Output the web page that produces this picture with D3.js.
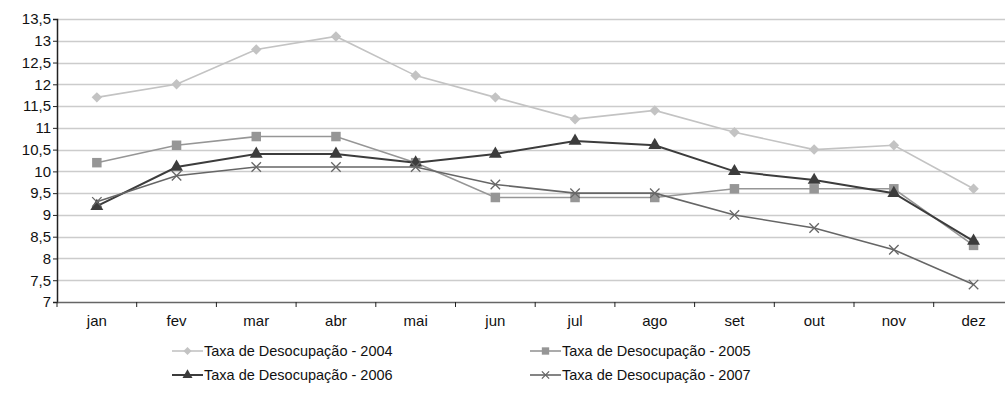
<!DOCTYPE html>
<html>
<head>
<meta charset="utf-8">
<script src="https://cdn.jsdelivr.net/npm/d3@7"></script>
<style>
	body { margin: 0; background: #fff; }
	svg { font-family: "Liberation Sans", Arial, sans-serif; }
</style>
</head>
<body>
<div id="chart"></div>
<script>
const months = ["jan", "fev", "mar", "abr", "mai", "jun", "jul", "ago", "set", "out", "nov", "dez"];
const yTicks = [7, 7.5, 8, 8.5, 9, 9.5, 10, 10.5, 11, 11.5, 12, 12.5, 13, 13.5];

const taxa2004 = [11.7, 12.0, 12.8, 13.1, 12.2, 11.7, 11.2, 11.4, 10.9, 10.5, 10.6, 9.6];
const taxa2005 = [10.2, 10.6, 10.8, 10.8, 10.2, 9.4, 9.4, 9.4, 9.6, 9.6, 9.6, 8.3];
const taxa2006 = [9.2, 10.1, 10.4, 10.4, 10.2, 10.4, 10.7, 10.6, 10.0, 9.8, 9.5, 8.4];
const taxa2007 = [9.3, 9.9, 10.1, 10.1, 10.1, 9.7, 9.5, 9.5, 9.0, 8.7, 8.2, 7.4];

const series = [
	{ name: "Taxa de Desocupação - 2004", values: taxa2004, color: "#c3c3c3", symbol: "diamond" },
	{ name: "Taxa de Desocupação - 2005", values: taxa2005, color: "#969696", symbol: "square" },
	{ name: "Taxa de Desocupação - 2006", values: taxa2006, color: "#3c3c3c", symbol: "triangle" },
	{ name: "Taxa de Desocupação - 2007", values: taxa2007, color: "#666666", symbol: "cross" },
];

const width = 1005;
const height = 412;
const plotLeft = 57;
const plotTop = 19;
const plotBottom = 302;

const svg = d3.select("#chart").append("svg")
	.attr("width", width)
	.attr("height", height);

const x = d3.scaleBand().domain(months).range([plotLeft, plotLeft + 12 * 79.7]);
const y = d3.scaleLinear().domain([7, 13.5]).range([plotBottom, plotTop]);

// grid lines
svg.append("g")
	.selectAll("line")
	.data(yTicks.filter((d) => d > 7))
	.enter()
	.append("line")
	.attr("x1", plotLeft)
	.attr("x2", width)
	.attr("y1", (d) => Math.round(y(d)) + 0.5)
	.attr("y2", (d) => Math.round(y(d)) + 0.5)
	.attr("stroke", "#cccccc")
	.attr("stroke-width", 1.5);

// y axis
const yAxis = d3.axisLeft(y)
	.tickValues(yTicks)
	.tickSize(4)
	.tickFormat((d) => String(d).replace(".", ","));

const gy = svg.append("g")
	.attr("transform", `translate(${plotLeft},0)`)
	.call(yAxis);
gy.select(".domain").attr("stroke", "#222").attr("stroke-width", 1.5);
gy.selectAll(".tick line").attr("stroke", "#222");
gy.selectAll(".tick text").attr("font-size", 15).attr("fill", "#111").attr("x", -6);

// x axis
const xAxis = d3.axisBottom(x).tickSize(0);
const gx = svg.append("g")
	.attr("transform", `translate(0,${plotBottom})`)
	.call(xAxis);
gx.select(".domain").attr("stroke", "#666").attr("stroke-width", 1.5);
gx.selectAll(".tick text").attr("font-size", 15).attr("fill", "#111").attr("dy", "1.05em").attr("y", 8);

// tick marks between categories
gx.append("g")
	.selectAll("line")
	.data(months)
	.enter()
	.append("line")
	.attr("x1", (d) => x(d))
	.attr("x2", (d) => x(d))
	.attr("y1", 0)
	.attr("y2", 5)
	.attr("stroke", "#222")
	.attr("stroke-width", 1);

const symbolType = {
	diamond: d3.symbolSquare,
	square: d3.symbolSquare,
	triangle: d3.symbolTriangle,
	cross: d3.symbolTimes,
};
const symbolSize = { diamond: 55, square: 90, triangle: 72, cross: 60 };

function drawMarker(g, s, cx, cy, scale) {
	const sym = d3.symbol().type(symbolType[s.symbol]).size(symbolSize[s.symbol] * scale);
	const rot = s.symbol === "diamond" ? " rotate(45)" : "";
	const p = g.append("path")
		.attr("d", sym())
		.attr("transform", `translate(${cx},${cy})${rot}`);
	if (s.symbol === "cross") {
		p.attr("fill", "none").attr("stroke", s.color).attr("stroke-width", 1.3);
	} else {
		p.attr("fill", s.color);
	}
}

const line = d3.line()
	.x((d, i) => x(months[i]) + x.bandwidth() / 2)
	.y((d) => y(d));

series.forEach((s) => {
	const g = svg.append("g");
	g.append("path")
		.datum(s.values)
		.attr("d", line)
		.attr("fill", "none")
		.attr("stroke", s.color)
		.attr("stroke-width", s.symbol === "triangle" ? 2 : 1.6);
	s.values.forEach((v, i) => {
		drawMarker(g, s, x(months[i]) + x.bandwidth() / 2, y(v), 1);
	});
});

// legend
const legendPos = [
	{ x: 172, y: 351 },
	{ x: 530, y: 351 },
	{ x: 172, y: 375 },
	{ x: 530, y: 375 },
];

series.forEach((s, i) => {
	const p = legendPos[i];
	const g = svg.append("g").attr("transform", `translate(${p.x},${p.y})`);
	g.append("line")
		.attr("x1", 0)
		.attr("x2", 31)
		.attr("y1", 0)
		.attr("y2", 0)
		.attr("stroke", s.color)
		.attr("stroke-width", s.symbol === "triangle" ? 2 : 1.6);
	drawMarker(g, s, 15.5, 0, 0.6);
	g.append("text")
		.attr("x", 32)
		.attr("y", 5)
		.attr("font-size", 14.5)
		.attr("fill", "#111")
		.text(s.name);
});
</script>
</body>
</html>
